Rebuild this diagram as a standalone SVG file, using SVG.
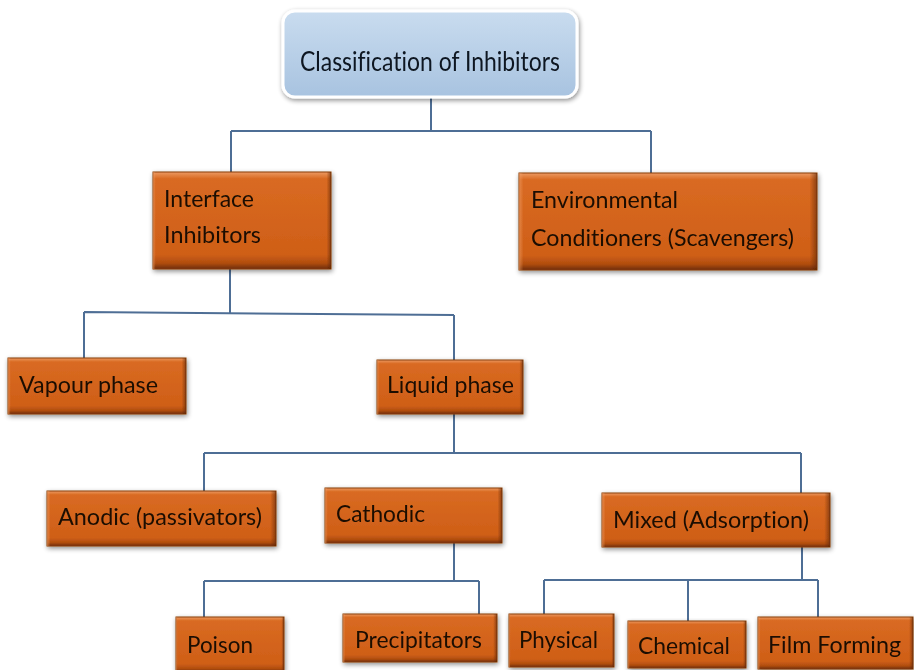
<svg xmlns="http://www.w3.org/2000/svg" width="914" height="670" viewBox="0 0 914 670">
<defs>
<linearGradient id="gBlue" x1="0" y1="0" x2="0" y2="1">
<stop offset="0" stop-color="#c9dcef"/>
<stop offset="1" stop-color="#a8c3e0"/>
</linearGradient>
<linearGradient id="gOrV" x1="0" y1="0" x2="0" y2="1">
<stop offset="0" stop-color="#ec9a62"/>
<stop offset="0.07" stop-color="#d96a22"/>
<stop offset="0.85" stop-color="#cf5f17"/>
<stop offset="0.94" stop-color="#b04d0f"/>
<stop offset="1" stop-color="#6e2c05"/>
</linearGradient>
<linearGradient id="gOrH" x1="0" y1="0" x2="1" y2="0">
<stop offset="0" stop-color="#f2a36c" stop-opacity="0.55"/>
<stop offset="0.015" stop-color="#f2a36c" stop-opacity="0"/>
<stop offset="0.975" stop-color="#5a2404" stop-opacity="0"/>
<stop offset="1" stop-color="#5a2404" stop-opacity="0.6"/>
</linearGradient>
<filter id="shadow" x="-10%" y="-10%" width="125%" height="130%">
<feGaussianBlur in="SourceAlpha" stdDeviation="2.5"/>
<feOffset dx="1" dy="2" result="b"/>
<feComponentTransfer><feFuncA type="linear" slope="0.45"/></feComponentTransfer>
<feMerge><feMergeNode/><feMergeNode in="SourceGraphic"/></feMerge>
</filter>
</defs>
<style>
.conn{fill:none;stroke:#4e6e95;stroke-width:2}
.box{fill:url(#gOrV);stroke:#8a3c0a;stroke-width:1}
.bev{fill:url(#gOrH)}
.t{font-family:Lato,"Open Sans",sans-serif;font-size:23px;fill:#1c0f04;font-variant-ligatures:none}
.title{font-family:Lato,"Open Sans",sans-serif;font-size:27px;fill:#0f1720;font-variant-ligatures:none}
</style>
<rect width="914" height="670" fill="#ffffff"/>
<g id="connectors">
<path class="conn" d="M431 97V131M231 131H651M231 131V172M651 131V173"/>
<path class="conn" d="M230 269V313M84 312L454 315M84 312V358M454 315V360"/>
<path class="conn" d="M454 414V453M204 453H801M204 453V491M801 453V493"/>
<path class="conn" d="M454 543V580M204 581H479M204 581V617M479 581V614"/>
<path class="conn" d="M802 547V580M544 580H818M544 580V614M688 580V621M818 580V617"/>
</g>
<g id="n-root" filter="url(#shadow)">
<rect x="283" y="11" width="294" height="86" rx="12" fill="url(#gBlue)" stroke="#ffffff" stroke-width="3"/>
<text class="title" x="300" y="71" textLength="260" lengthAdjust="spacingAndGlyphs">Classification of Inhibitors</text>
</g>
<g id="n-interface" filter="url(#shadow)">
<rect class="box" x="153" y="172" width="178" height="97"/>
<rect class="bev" x="153" y="172" width="178" height="97"/>
<text class="t" x="164" y="207" textLength="90" lengthAdjust="spacingAndGlyphs">Interface</text>
<text class="t" x="164" y="243" textLength="97" lengthAdjust="spacingAndGlyphs">Inhibitors</text>
</g>
<g id="n-env" filter="url(#shadow)">
<rect class="box" x="519" y="173" width="298" height="97"/>
<rect class="bev" x="519" y="173" width="298" height="97"/>
<text class="t" x="531" y="208" textLength="147" lengthAdjust="spacingAndGlyphs">Environmental</text>
<text class="t" x="531" y="246" textLength="263" lengthAdjust="spacingAndGlyphs">Conditioners (Scavengers)</text>
</g>
<g id="n-vapour" filter="url(#shadow)">
<rect class="box" x="8" y="358" width="178" height="56"/>
<rect class="bev" x="8" y="358" width="178" height="56"/>
<text class="t" x="19" y="393" textLength="139" lengthAdjust="spacingAndGlyphs">Vapour phase</text>
</g>
<g id="n-liquid" filter="url(#shadow)">
<rect class="box" x="377" y="360" width="146" height="54"/>
<rect class="bev" x="377" y="360" width="146" height="54"/>
<text class="t" x="387" y="393" textLength="127" lengthAdjust="spacingAndGlyphs">Liquid phase</text>
</g>
<g id="n-anodic" filter="url(#shadow)">
<rect class="box" x="47" y="491" width="229" height="55"/>
<rect class="bev" x="47" y="491" width="229" height="55"/>
<text class="t" x="58" y="525" textLength="204" lengthAdjust="spacingAndGlyphs">Anodic (passivators)</text>
</g>
<g id="n-cathodic" filter="url(#shadow)">
<rect class="box" x="325" y="488" width="177" height="55"/>
<rect class="bev" x="325" y="488" width="177" height="55"/>
<text class="t" x="336" y="522" textLength="89" lengthAdjust="spacingAndGlyphs">Cathodic</text>
</g>
<g id="n-mixed" filter="url(#shadow)">
<rect class="box" x="602" y="493" width="228" height="54"/>
<rect class="bev" x="602" y="493" width="228" height="54"/>
<text class="t" x="613" y="528" textLength="196" lengthAdjust="spacingAndGlyphs">Mixed (Adsorption)</text>
</g>
<g id="n-poison" filter="url(#shadow)">
<rect class="box" x="176" y="617" width="108" height="55"/>
<rect class="bev" x="176" y="617" width="108" height="55"/>
<text class="t" x="187" y="653" textLength="66" lengthAdjust="spacingAndGlyphs">Poison</text>
</g>
<g id="n-precip" filter="url(#shadow)">
<rect class="box" x="343" y="614" width="154" height="48"/>
<rect class="bev" x="343" y="614" width="154" height="48"/>
<text class="t" x="355" y="648" textLength="127" lengthAdjust="spacingAndGlyphs">Precipitators</text>
</g>
<g id="n-physical" filter="url(#shadow)">
<rect class="box" x="509" y="614" width="105" height="53"/>
<rect class="bev" x="509" y="614" width="105" height="53"/>
<text class="t" x="519" y="648" textLength="79" lengthAdjust="spacingAndGlyphs">Physical</text>
</g>
<g id="n-chemical" filter="url(#shadow)">
<rect class="box" x="628" y="621" width="118" height="47"/>
<rect class="bev" x="628" y="621" width="118" height="47"/>
<text class="t" x="638" y="654" textLength="92" lengthAdjust="spacingAndGlyphs">Chemical</text>
</g>
<g id="n-film" filter="url(#shadow)">
<rect class="box" x="758" y="617" width="155" height="52"/>
<rect class="bev" x="758" y="617" width="155" height="52"/>
<text class="t" x="768" y="653" textLength="133" lengthAdjust="spacingAndGlyphs">Film Forming</text>
</g>
</svg>
